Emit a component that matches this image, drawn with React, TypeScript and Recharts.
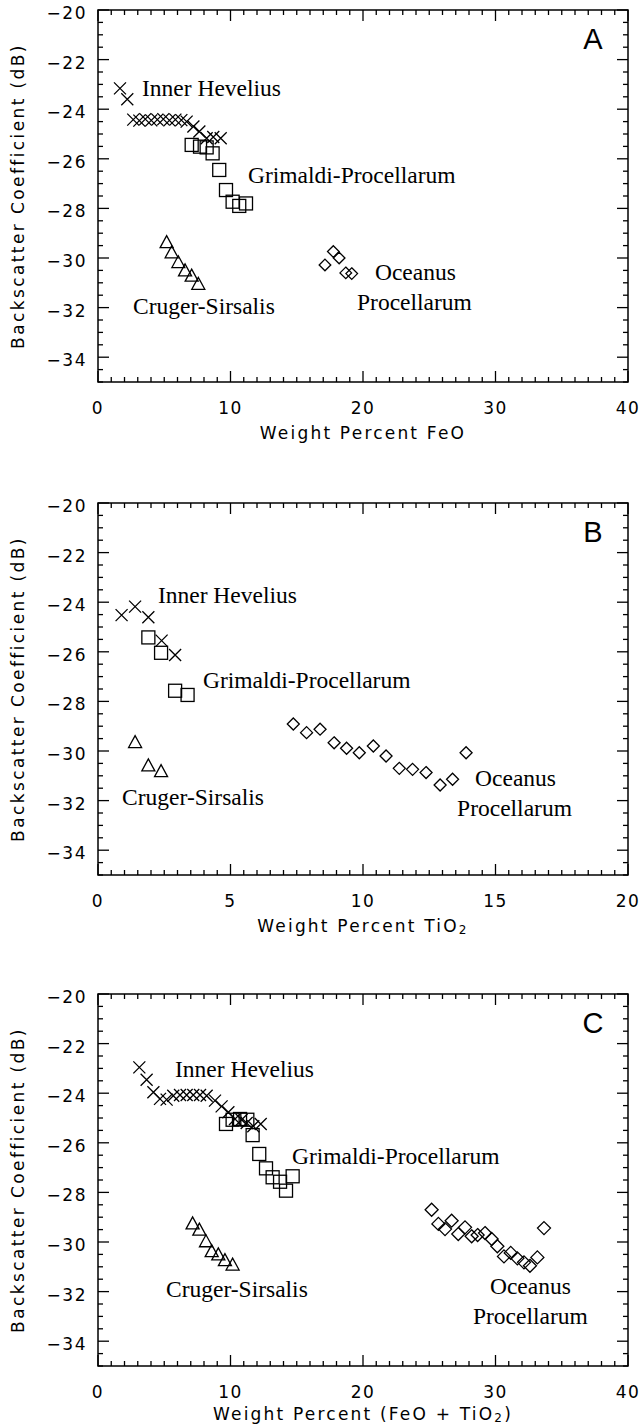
import React from 'react';
import { ScatterChart, Scatter, XAxis, YAxis, ReferenceArea, ReferenceDot } from 'recharts';

// ---------- Panel A : Weight Percent FeO ----------
const aHevX = [1.66, 2.21, 2.66, 3.12, 3.57, 4.02, 4.48, 4.93, 5.39, 5.84, 6.29, 6.69, 7.2, 7.65, 8.2, 8.7, 9.26];
const aHevY = [-23.16, -23.6, -24.42, -24.46, -24.4, -24.45, -24.42, -24.4, -24.45, -24.42, -24.44, -24.5, -24.7, -24.9, -25.17, -25.12, -25.17];
const aGrimX = [7.07, 7.7, 8.2, 8.65, 9.15, 9.66, 10.16, 10.66, 11.17];
const aGrimY = [-25.44, -25.51, -25.54, -25.78, -26.45, -27.26, -27.73, -27.9, -27.8];
const aCrugX = [5.18, 5.56, 6.06, 6.57, 7.07, 7.57];
const aCrugY = [-29.34, -29.75, -30.15, -30.48, -30.69, -31.02];
const aOceX = [17.13, 17.76, 18.2, 18.7, 19.15];
const aOceY = [-30.28, -29.74, -30.0, -30.6, -30.63];

// ---------- Panel B : Weight Percent TiO2 ----------
const bHevX = [0.89, 1.4, 1.9, 2.4, 2.91];
const bHevY = [-24.52, -24.18, -24.61, -25.55, -26.13];
const bGrimX = [1.9, 2.38, 2.91, 3.38];
const bGrimY = [-25.42, -26.04, -27.57, -27.74];
const bCrugX = [1.4, 1.9, 2.38];
const bCrugY = [-29.62, -30.56, -30.79];
const bOceX = [7.37, 7.87, 8.38, 8.91, 9.38, 9.86, 10.39, 10.87, 11.37, 11.87, 12.38, 12.91, 13.38, 13.89];
const bOceY = [-28.91, -29.26, -29.12, -29.67, -29.89, -30.07, -29.8, -30.2, -30.7, -30.74, -30.87, -31.37, -31.14, -30.07];

// ---------- Panel C : Weight Percent (FeO + TiO2) ----------
const cHevX = [3.12, 3.67, 4.18, 4.68, 5.18, 5.68, 6.19, 6.69, 7.19, 7.7, 8.2, 8.83, 9.33, 9.84, 10.34, 10.84, 11.22, 11.72, 12.28];
const cHevY = [-22.96, -23.46, -23.96, -24.23, -24.26, -24.1, -24.07, -24.07, -24.07, -24.07, -24.1, -24.3, -24.53, -24.77, -25.04, -25.07, -25.2, -25.33, -25.24];
const cGrimX = [9.66, 10.16, 10.72, 11.27, 11.67, 12.17, 12.68, 13.18, 13.74, 14.19, 14.69];
const cGrimY = [-25.24, -25.07, -25.04, -25.07, -25.69, -26.45, -27.03, -27.39, -27.57, -27.93, -27.35];
const cCrugX = [7.14, 7.65, 8.15, 8.58, 9.08, 9.58, 10.16];
const cCrugY = [-29.23, -29.48, -29.95, -30.35, -30.48, -30.71, -30.89];
const cOceX = [25.18, 25.69, 26.19, 26.69, 27.19, 27.7, 28.2, 28.65, 29.21, 29.71, 30.14, 30.64, 31.15, 31.65, 32.15, 32.6, 33.16, 33.66];
const cOceY = [-28.7, -29.27, -29.48, -29.14, -29.68, -29.41, -29.77, -29.72, -29.64, -29.88, -30.17, -30.58, -30.44, -30.66, -30.82, -30.96, -30.62, -29.44];

// ---------- Axis ticks ----------
const xMajor40 = [0, 10, 20, 30, 40];
const xMajor20 = [0, 5, 10, 15, 20];
const yMajor = [-20, -22, -24, -26, -28, -30, -32, -34];
const yDomain: [number, number] = [-35, -20];

// ---------- Annotations (text, x, y in data units) ----------
const aLabels = ['Inner Hevelius', 'Grimaldi-Procellarum', 'Cruger-Sirsalis', 'Oceanus', 'Procellarum'];
const aLabelX = [3.32, 11.32, 2.64, 20.9, 19.55];
const aLabelY = [-23.15, -26.65, -31.94, -30.56, -31.77];
const bLabels = ['Inner Hevelius', 'Grimaldi-Procellarum', 'Cruger-Sirsalis', 'Oceanus', 'Procellarum'];
const bLabelX = [2.26, 3.96, 0.91, 14.23, 13.55];
const bLabelY = [-23.71, -27.14, -31.85, -31.09, -32.3];
const cLabels = ['Inner Hevelius', 'Grimaldi-Procellarum', 'Cruger-Sirsalis', 'Oceanus', 'Procellarum'];
const cLabelX = [5.81, 14.64, 5.13, 29.58, 28.3];
const cLabelY = [-23.02, -26.53, -31.9, -31.77, -32.98];

const panelLetters = ['A', 'B', 'C'];

// ---------- Layout constants ----------
const W = 643;
const PLOT_LEFT = 98;
const PLOT_RIGHT = 628;
const PLOT_TOP = 10;
const PLOT_H = 372;
const PLOT_BOTTOM = PLOT_TOP + PLOT_H;
const TICK_FONT = '"DejaVu Sans", sans-serif';
const SERIF = '"Liberation Serif", "Times New Roman", serif';

const zip = (xs: number[], ys: number[]) => xs.map((x, i) => ({ x, y: ys[i] }));

const minorTicks = (lo: number, hi: number, step: number) => {
  const out: number[] = [];
  const n = Math.round((hi - lo) / step);
  for (let i = 0; i <= n; i++) out.push(+(lo + i * step).toFixed(4));
  return out;
};

const isIn = (arr: number[], v: number) => arr.some((m) => Math.abs(m - v) < 1e-6);
const fmt = (v: number) => (v < 0 ? '\u2212' + Math.abs(v) : String(v));

const SW = 1.3;

const makeXTick = (major: number[]) => (props: any) => {
  const { x, payload } = props;
  const v = payload.value;
  const mj = isIn(major, v);
  const len = mj ? 11 : 5;
  return (
    <g>
      <line x1={x} x2={x} y1={PLOT_BOTTOM} y2={PLOT_BOTTOM - len} stroke="#000" strokeWidth={SW} />
      <line x1={x} x2={x} y1={PLOT_TOP} y2={PLOT_TOP + len} stroke="#000" strokeWidth={SW} />
      {mj && (
        <text x={x} y={PLOT_BOTTOM + 26} textAnchor="middle" dominantBaseline="central" fontFamily={TICK_FONT} fontSize={17} letterSpacing={1.5} fill="#000">
          {fmt(v)}
        </text>
      )}
    </g>
  );
};

const makeYTick = (major: number[]) => (props: any) => {
  const { y, payload } = props;
  const v = payload.value;
  const mj = isIn(major, v);
  const len = mj ? 11 : 5;
  return (
    <g>
      <line x1={PLOT_LEFT} x2={PLOT_LEFT + len} y1={y} y2={y} stroke="#000" strokeWidth={SW} />
      <line x1={PLOT_RIGHT} x2={PLOT_RIGHT - len} y1={y} y2={y} stroke="#000" strokeWidth={SW} />
      {mj && (
        <text x={PLOT_LEFT - 11} y={y + 3} textAnchor="end" dominantBaseline="central" fontFamily={TICK_FONT} fontSize={17} letterSpacing={1.5} fill="#000">
          {fmt(v)}
        </text>
      )}
    </g>
  );
};

const Cross = (p: any) => {
  const { cx, cy } = p;
  const s = 6;
  return <path d={`M${cx - s},${cy - s}L${cx + s},${cy + s}M${cx - s},${cy + s}L${cx + s},${cy - s}`} stroke="#000" strokeWidth={SW} fill="none" />;
};
const Square = (p: any) => {
  const { cx, cy } = p;
  const s = 6.5;
  return <rect x={cx - s} y={cy - s} width={2 * s} height={2 * s} stroke="#000" strokeWidth={SW} fill="none" />;
};
const Triangle = (p: any) => {
  const { cx, cy } = p;
  const s = 6.5;
  return <path d={`M${cx - s},${cy + s * 0.92}L${cx},${cy - s * 0.92}L${cx + s},${cy + s * 0.92}Z`} stroke="#000" strokeWidth={SW} fill="none" />;
};
const makeDiamond = (s: number) => (p: any) => {
  const { cx, cy } = p;
  return <path d={`M${cx},${cy - s}L${cx + s},${cy}L${cx},${cy + s}L${cx - s},${cy}Z`} stroke="#000" strokeWidth={SW} fill="none" />;
};

type PanelCfg = {
  h: number;
  xMax: number;
  xStep: number;
  xMajor: number[];
  title: React.ReactNode;
  titleOffset: number;
  letter: string;
  hev: { x: number; y: number }[];
  grim: { x: number; y: number }[];
  crug: { x: number; y: number }[];
  oce: { x: number; y: number }[];
  labels: string[];
  lx: number[];
  ly: number[];
  diamond: number;
};

function Panel({ cfg }: { cfg: PanelCfg }) {
  const xTicks = minorTicks(0, cfg.xMax, cfg.xStep);
  const yTicks = minorTicks(-35, -20, 0.5);
  const xCenter = (PLOT_LEFT + PLOT_RIGHT) / 2;
  const yCenter = PLOT_TOP + PLOT_H / 2;
  return (
    <ScatterChart width={W} height={cfg.h} margin={{ top: PLOT_TOP, right: W - PLOT_RIGHT, bottom: 0, left: 0 }}>
      <XAxis
        type="number"
        dataKey="x"
        domain={[0, cfg.xMax]}
        ticks={xTicks}
        interval={0}
        allowDataOverflow
        tick={makeXTick(cfg.xMajor)}
        tickLine={false}
        axisLine={false}
        height={cfg.h - PLOT_BOTTOM}
        label={{
          content: () => (
            <text x={xCenter} y={PLOT_BOTTOM + cfg.titleOffset} textAnchor="middle" dominantBaseline="central" fontFamily={TICK_FONT} fontSize={17} letterSpacing={2.2} fill="#000">
              {cfg.title}
            </text>
          ),
        }}
      />
      <YAxis
        type="number"
        dataKey="y"
        domain={yDomain}
        ticks={yTicks}
        interval={0}
        allowDataOverflow
        tick={makeYTick(yMajor)}
        tickLine={false}
        axisLine={false}
        width={PLOT_LEFT}
        label={{
          content: () => (
            <text x={18} y={yCenter} transform={`rotate(-90, 18, ${yCenter})`} textAnchor="middle" dominantBaseline="central" fontFamily={TICK_FONT} fontSize={17} letterSpacing={2.4} fill="#000">
              Backscatter Coefficient (dB)
            </text>
          ),
        }}
      />
      <ReferenceArea x1={0} x2={cfg.xMax} y1={-35} y2={-20} fill="none" fillOpacity={0} stroke="#000" strokeWidth={1.5} ifOverflow="visible" />
      <Scatter data={cfg.hev} shape={Cross} isAnimationActive={false} />
      <Scatter data={cfg.grim} shape={Square} isAnimationActive={false} />
      <Scatter data={cfg.crug} shape={Triangle} isAnimationActive={false} />
      <Scatter data={cfg.oce} shape={makeDiamond(cfg.diamond)} isAnimationActive={false} />
      {cfg.labels.map((t, i) => (
        <ReferenceDot
          key={t + i}
          x={cfg.lx[i]}
          y={cfg.ly[i]}
          r={0}
          ifOverflow="visible"
          shape={(p: any) => (
            <text x={p.cx} y={p.cy} dominantBaseline="central" fontFamily={SERIF} fontSize={23.5} fill="#000">
              {t}
            </text>
          )}
        />
      ))}
      <ReferenceDot
        x={cfg.xMax * 0.934}
        y={-21.15}
        r={0}
        ifOverflow="visible"
        shape={(p: any) => (
          <text x={p.cx} y={p.cy} textAnchor="middle" dominantBaseline="central" fontFamily='"Liberation Sans", Arial, sans-serif' fontSize={29} fill="#000">
            {cfg.letter}
          </text>
        )}
      />
    </ScatterChart>
  );
}

const sub2 = (
  <tspan dy={4} fontSize={12}>
    2
  </tspan>
);

const panels: { top: number; cfg: PanelCfg }[] = [
  {
    top: 0,
    cfg: {
      h: 450, xMax: 40, xStep: 1, xMajor: xMajor40,
      title: 'Weight Percent FeO', titleOffset: 51, letter: panelLetters[0],
      hev: zip(aHevX, aHevY), grim: zip(aGrimX, aGrimY), crug: zip(aCrugX, aCrugY), oce: zip(aOceX, aOceY),
      labels: aLabels, lx: aLabelX, ly: aLabelY, diamond: 5.8,
    },
  },
  {
    top: 493,
    cfg: {
      h: 450, xMax: 20, xStep: 0.5, xMajor: xMajor20,
      title: (<>Weight Percent TiO{sub2}</>), titleOffset: 51, letter: panelLetters[1],
      hev: zip(bHevX, bHevY), grim: zip(bGrimX, bGrimY), crug: zip(bCrugX, bCrugY), oce: zip(bOceX, bOceY),
      labels: bLabels, lx: bLabelX, ly: bLabelY, diamond: 6,
    },
  },
  {
    top: 984,
    cfg: {
      h: 442, xMax: 40, xStep: 1, xMajor: xMajor40,
      title: (<>Weight Percent (FeO + TiO{sub2}<tspan dy={-4}>)</tspan></>), titleOffset: 48, letter: panelLetters[2],
      hev: zip(cHevX, cHevY), grim: zip(cGrimX, cGrimY), crug: zip(cCrugX, cCrugY), oce: zip(cOceX, cOceY),
      labels: cLabels, lx: cLabelX, ly: cLabelY, diamond: 6.5,
    },
  },
];

export default function App() {
  return (
    <div style={{ position: 'absolute', left: 0, top: 0, width: W, height: 1426, background: '#fff' }}>
      {panels.map((p, i) => (
        <div key={i} style={{ position: 'absolute', left: 0, top: p.top }}>
          <Panel cfg={p.cfg} />
        </div>
      ))}
    </div>
  );
}
